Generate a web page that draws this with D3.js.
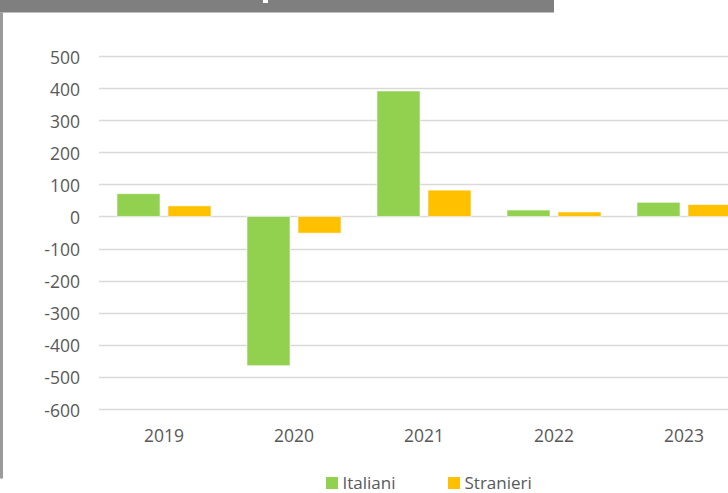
<!DOCTYPE html>
<html>
<head>
<meta charset="utf-8">
<script src="https://cdn.jsdelivr.net/npm/d3@7"></script>
<style>
  html, body { margin: 0; padding: 0; background: #fff; }
  svg { display: block; font-family: "Open Sans", "Noto Sans", sans-serif; }
</style>
</head>
<body>
<svg id="chart" width="728" height="493"></svg>
<script>
// Saldo per anno: italiani e stranieri
const years = ["2019", "2020", "2021", "2022", "2023"];
const seriesNames = ["Italiani", "Stranieri"];
const italiani = [71, -465, 391, 20, 44];
const stranieri = [33, -52, 82, 14, 37];
const yTicks = [500, 400, 300, 200, 100, 0, -100, -200, -300, -400, -500, -600];
const colors = ["#92D050", "#FFC000"];

const rows = years.map((y, i) => ({ year: y, values: [italiani[i], stranieri[i]] }));

const svg = d3.select("#chart");
const W = 728, H = 493;

// header band and left frame edge
svg.append("rect").attr("x", 0).attr("y", 0).attr("width", 554).attr("height", 12.5).attr("fill", "#7f7f7f");
svg.append("rect").attr("x", 263).attr("y", 0).attr("width", 5).attr("height", 3).attr("fill", "#fff");
svg.append("rect").attr("x", 0).attr("y", 12.5).attr("width", 3).attr("height", 466).attr("fill", "#9a9a9a");

const plotLeft = 99;
const step = 130;

const y = d3.scaleLinear().domain([-600, 500]).range([409, 56]);
const x = d3.scaleBand().domain(years)
  .range([plotLeft, plotLeft + step * years.length])
  .paddingInner(0.277).paddingOuter(0.1385);
const xs = d3.scaleBand().domain(d3.range(seriesNames.length))
  .range([0, x.bandwidth()]).paddingInner(0.157).paddingOuter(0);

// gridlines
const gGrid = svg.append("g");
gGrid.selectAll("line").data(yTicks).join("line")
  .attr("x1", plotLeft).attr("x2", W)
  .attr("y1", d => Math.round(y(d)) + 0.5).attr("y2", d => Math.round(y(d)) + 0.5)
  .attr("stroke", "#d9d9d9").attr("stroke-width", 1.3);

// y axis labels (plain hyphen for negatives)
const yAxis = d3.axisLeft(y).tickValues(yTicks).tickSize(0).tickPadding(0)
  .tickFormat(d => String(d));
const gy = svg.append("g").attr("transform", "translate(80,0)").call(yAxis);
gy.select(".domain").remove();
gy.selectAll("text")
  .attr("font-size", 17.5).attr("fill", "#595959")
  .attr("font-family", "'Open Sans', sans-serif")
  .attr("dy", "0.4em");

// bars
const groups = svg.append("g").selectAll("g").data(rows).join("g")
  .attr("transform", d => `translate(${x(d.year)},0)`);
groups.selectAll("rect").data(d => d.values.map((v, i) => ({ v, i }))).join("rect")
  .attr("x", d => xs(d.i))
  .attr("width", xs.bandwidth())
  .attr("y", d => y(Math.max(0, d.v)))
  .attr("height", d => Math.abs(y(d.v) - y(0)))
  .attr("fill", d => colors[d.i])
  .attr("stroke", "#ffffff").attr("stroke-opacity", 0.55).attr("stroke-width", 1);

// x axis labels
const xAxis = d3.axisBottom(x).tickSize(0).tickPadding(0);
const gx = svg.append("g").attr("transform", "translate(0,441.5)").call(xAxis);
gx.select(".domain").remove();
gx.selectAll("text")
  .attr("font-size", 17.5).attr("fill", "#595959")
  .attr("font-family", "'Open Sans', sans-serif")
  .attr("dy", 0).attr("y", 0);

// legend
const legendX = [326, 448];
const legend = svg.append("g").selectAll("g").data(seriesNames).join("g")
  .attr("transform", (d, i) => `translate(${legendX[i]},477)`);
legend.append("rect").attr("width", 12).attr("height", 12).attr("fill", (d, i) => colors[i]);
legend.append("text").attr("x", 16.5).attr("y", 11.5)
  .attr("font-size", 17).attr("fill", "#595959").text(d => d);
</script>
</body>
</html>
